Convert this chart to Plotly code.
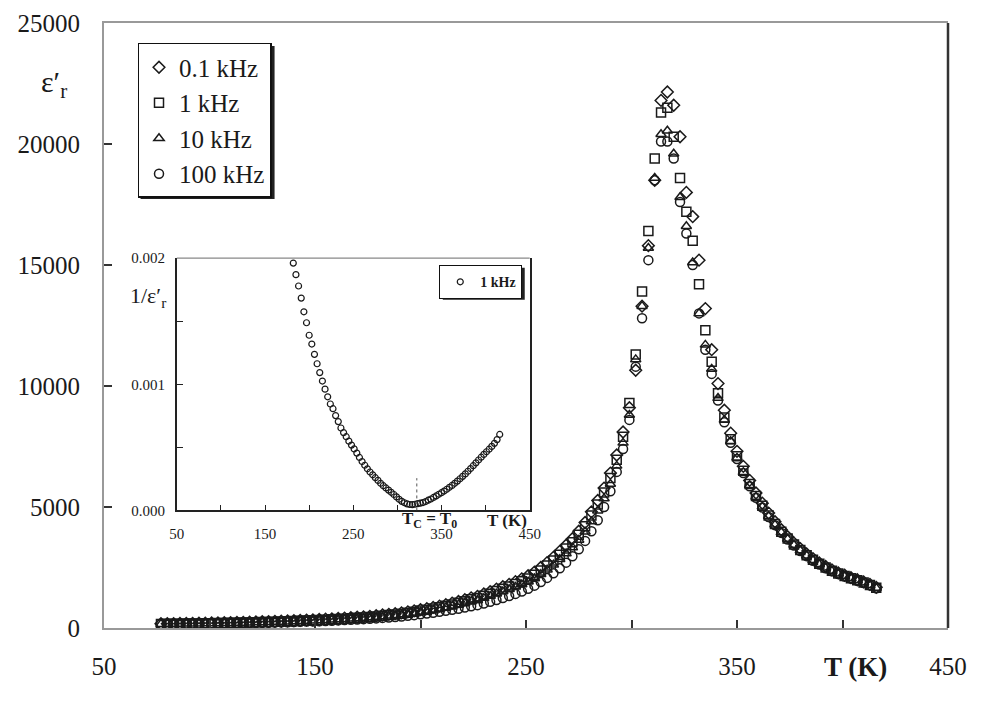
import plotly.graph_objects as go

# ---------------- data ----------------
T = [77, 80, 83, 86, 89, 92, 95, 98, 101, 104,
     107, 110, 113, 116, 119, 122, 125, 128, 131, 134,
     137, 140, 143, 146, 149, 152, 155, 158, 161, 164,
     167, 170, 173, 176, 179, 182, 185, 188, 191, 194,
     197, 200, 203, 206, 209, 212, 215, 218, 221, 224,
     227, 230, 233, 236, 239, 242, 245, 248, 251, 254,
     257, 260, 263, 266, 269, 272, 275, 278, 281, 284,
     287, 290, 293, 296, 299, 302, 305, 308, 311, 314,
     317, 320, 323, 326, 329, 332, 335, 338, 341, 344,
     347, 350, 353, 356, 359, 362, 365, 368, 371, 374,
     377, 380, 383, 386, 389, 392, 395, 398, 401, 404,
     407, 410, 413, 416]

eps_01k = [178, 180, 183, 186, 189, 193, 197, 201, 206, 211,
           216, 222, 228, 235, 242, 249, 257, 265, 274, 283,
           293, 304, 315, 326, 338, 351, 364, 378, 393, 409,
           426, 444, 463, 484, 507, 538, 565, 594, 627, 670,
           710, 760, 800, 852, 906, 965, 1028, 1095, 1168, 1248,
           1310, 1405, 1500, 1610, 1705, 1800, 1915, 2030, 2160, 2310,
           2500, 2700, 2920, 3170, 3420, 3690, 4000, 4360, 4800, 5270,
           5780, 6400, 7150, 8100, 9100, 10650, 13300, 15800, 18500, 21800,
           22150, 21600, 20300, 18000, 17000, 15200, 13200, 11500, 10100, 9000,
           8050, 7300, 6680, 6100, 5580, 5160, 4750, 4390, 4060, 3770,
           3510, 3280, 3060, 2870, 2690, 2540, 2400, 2280, 2180, 2085,
           1995, 1905, 1800, 1680]

eps_1k = [170, 172, 175, 178, 181, 185, 189, 193, 197, 202,
          207, 212, 218, 224, 230, 237, 244, 252, 260, 269,
          278, 288, 298, 309, 320, 332, 345, 358, 372, 387,
          403, 420, 438, 458, 480, 510, 535, 562, 594, 635,
          672, 720, 758, 808, 860, 915, 975, 1040, 1110, 1185,
          1240, 1330, 1420, 1530, 1620, 1710, 1820, 1930, 2050, 2200,
          2380, 2580, 2790, 3030, 3280, 3540, 3850, 4200, 4650, 5100,
          5600, 6200, 6950, 7900, 9300, 11300, 13900, 16400, 19400, 21300,
          21500, 20300, 18600, 17200, 16000, 14200, 12300, 11000, 9700, 8700,
          7800, 7100, 6500, 5950, 5450, 5050, 4650, 4300, 3980, 3700,
          3450, 3220, 3010, 2820, 2650, 2500, 2370, 2250, 2150, 2060,
          1970, 1880, 1780, 1660]

eps_10k = [160, 162, 165, 168, 171, 174, 178, 182, 186, 190,
           195, 200, 205, 211, 217, 223, 230, 237, 245, 253,
           262, 271, 281, 291, 302, 313, 325, 338, 351, 365,
           380, 396, 413, 431, 451, 478, 503, 528, 556, 592,
           628, 672, 708, 752, 800, 850, 905, 965, 1030, 1100,
           1150, 1235, 1320, 1420, 1510, 1600, 1700, 1800, 1910, 2050,
           2220, 2410, 2610, 2840, 3080, 3330, 3640, 3980, 4400, 4850,
           5350, 5950, 6700, 7650, 8800, 11100, 13300, 15700, 18600, 20400,
           20550, 19600, 17800, 16600, 15100, 13000, 11700, 10700, 9500, 8600,
           7720, 7030, 6440, 5900, 5410, 5010, 4620, 4270, 3950, 3680,
           3430, 3200, 2990, 2800, 2635, 2485, 2355, 2240, 2140, 2050,
           1960, 1870, 1770, 1650]

eps_100k = [150, 152, 154, 157, 160, 163, 166, 170, 173, 177,
            181, 185, 190, 195, 200, 206, 212, 218, 225, 232,
            239, 247, 255, 264, 273, 282, 292, 303, 314, 326,
            339, 352, 366, 381, 397, 418, 436, 455, 476, 505,
            532, 566, 595, 630, 668, 708, 750, 796, 846, 900,
            945, 1010, 1080, 1160, 1240, 1320, 1410, 1510, 1620, 1750,
            1900, 2070, 2260, 2470, 2700, 2960, 3250, 3600, 4000, 4450,
            5000, 5650, 6450, 7400, 8600, 10800, 12800, 15200, 18500, 20100,
            20100, 19400, 17600, 16300, 15000, 13000, 11500, 10500, 9400, 8500,
            7650, 6980, 6400, 5860, 5380, 4980, 4590, 4250, 3930, 3660,
            3410, 3180, 2970, 2780, 2620, 2470, 2340, 2230, 2130, 2040,
            1950, 1860, 1760, 1640]

series_names = ["0.1 kHz", "1 kHz", "10 kHz", "100 kHz"]
series_values = [eps_01k, eps_1k, eps_10k, eps_100k]
series_symbols = ["diamond-open", "square-open", "triangle-up-open", "circle-open"]

main_tickvals = [50, 100, 150, 200, 250, 300, 350, 400, 450]
main_ticktext = ["50", "", "150", "", "250", "", "350", "", "450"]
main_yticks = [0, 5000, 10000, 15000, 20000, 25000]

inset_min_T = 180          # inset shows 1/eps' of the 1 kHz series above this T
inset_yticks = [0, 0.0005, 0.001, 0.0015, 0.002]
inset_yticktext = ["0.000", "", "0.001", "", "0.002"]
TC = 322                   # dotted marker of Tc = T0 in the inset
TC_top = 0.000256

inset_T = [t for t in T if t >= inset_min_T]
inset_inv = [1.0 / e for t, e in zip(T, eps_1k) if t >= inset_min_T]

SERIF = "Liberation Serif, Times New Roman, Times, DejaVu Serif, serif"
INK = "#1a1a1a"

fig = go.Figure()

for i, (name, vals, sym) in enumerate(zip(series_names, series_values, series_symbols)):
    fig.add_trace(go.Scatter(
        x=T, y=vals, mode="markers", name=name, legendgroup=f"g{i}",
        marker=dict(symbol=sym, size=9, color=INK, line=dict(width=1.5, color=INK)),
        xaxis="x", yaxis="y", legend="legend",
    ))

fig.add_trace(go.Scatter(
    x=inset_T, y=inset_inv, mode="markers", name="<b>1 kHz</b>",
    marker=dict(symbol="circle-open", size=6, color=INK, line=dict(width=1.2, color=INK)),
    xaxis="x2", yaxis="y2", legend="legend2",
))

inset_dom_x = [0.0863, 0.5044]
inset_dom_y = [0.1943, 0.6113]

fig.update_layout(
    template="none",
    width=1002, height=712,
    margin=dict(l=96, r=62, t=15, b=92, autoexpand=False),
    paper_bgcolor="white", plot_bgcolor="white",
    font=dict(family=SERIF, color=INK),
    xaxis=dict(
        range=[50, 450], domain=[0, 1], tickmode="array", automargin=False,
        tickvals=main_tickvals, ticktext=main_ticktext,
        ticks="inside", ticklen=8, tickwidth=1.5, tickcolor="#333",
        showline=True, linecolor="#999", linewidth=2, mirror=True,
        showgrid=False, zeroline=False,
        tickfont=dict(family=SERIF, size=25, color=INK),
        ticklabelstandoff=15,
    ),
    yaxis=dict(
        range=[0, 25000], domain=[0, 1], tickmode="array", automargin=False,
        tickvals=main_yticks, ticktext=[str(v) for v in main_yticks],
        ticks="inside", ticklen=8, tickwidth=1.5, tickcolor="#333",
        showline=True, linecolor="#999", linewidth=2, mirror=False,
        showgrid=False, zeroline=False,
        tickfont=dict(family=SERIF, size=25, color=INK),
        ticklabelstandoff=17,
    ),
    xaxis2=dict(
        range=[50, 450], domain=inset_dom_x, anchor="y2", tickmode="array", automargin=False,
        tickvals=main_tickvals, ticktext=main_ticktext,
        ticks="inside", ticklen=6, tickwidth=1.2, tickcolor="#222",
        showline=True, linecolor="#222", linewidth=1.5, mirror=False,
        showgrid=False, zeroline=False,
        tickfont=dict(family=SERIF, size=15, color=INK),
        ticklabelstandoff=9,
    ),
    yaxis2=dict(
        range=[0, 0.002], domain=inset_dom_y, anchor="x2", tickmode="array", automargin=False,
        tickvals=inset_yticks, ticktext=inset_yticktext,
        ticks="inside", ticklen=6, tickwidth=1.2, tickcolor="#222",
        showline=True, linecolor="#222", linewidth=1.5, mirror=True,
        showgrid=False, zeroline=False,
        tickfont=dict(family=SERIF, size=15, color=INK),
        ticklabelstandoff=7,
    ),
    legend=dict(
        x=0.0397, y=0.967, xanchor="left", yanchor="top",
        bgcolor="white", bordercolor="#111", borderwidth=1.5,
        font=dict(family=SERIF, size=25, color=INK),
        tracegroupgap=0, itemwidth=30,
    ),
    legend2=dict(
        x=0.397, y=0.600, xanchor="left", yanchor="top",
        bgcolor="white", bordercolor="#111", borderwidth=1.2,
        font=dict(family=SERIF, size=14, color=INK),
        itemwidth=30,
    ),
    showlegend=True,
)

shapes = [
    # darker right frame line of the main plot
    dict(type="line", xref="paper", yref="paper", x0=1, x1=1, y0=0, y1=1,
         line=dict(color="#333", width=2.5)),
    # thin grey top line of the inset
    dict(type="line", xref="x2 domain", yref="y2 domain", x0=0, x1=1, y0=1, y1=1,
         line=dict(color="#888", width=1.2)),
    # dotted Tc marker
    dict(type="line", xref="x2", yref="y2", x0=TC, x1=TC, y0=0, y1=TC_top,
         line=dict(color="#555", width=1, dash="dot")),
    # legend drop shadows
    dict(type="rect", xref="paper", yref="paper", x0=0.0433, x1=0.2021, y0=0.7092, y1=0.962,
         fillcolor="#222", line=dict(width=0), layer="above"),
    dict(type="rect", xref="paper", yref="paper", x0=0.4014, x1=0.4985, y0=0.5424, y1=0.5953,
         fillcolor="#222", line=dict(width=0), layer="above"),
]
fig.update_layout(shapes=shapes)

annotations = [
    dict(text="ε′<sub>r</sub>", xref="paper", yref="paper", x=-0.0587, y=0.899,
         xanchor="center", yanchor="middle", showarrow=False,
         font=dict(family=SERIF, size=30, color=INK)),
    dict(text="<b>T (K)</b>", xref="x", yref="paper", x=406, y=0, yshift=-39,
         xanchor="center", yanchor="middle", showarrow=False,
         font=dict(family=SERIF, size=27, color=INK)),
    dict(text="1/ε′<sub>r</sub>", xref="paper", yref="paper", x=0.028, y=0.547,
         xanchor="left", yanchor="middle", showarrow=False,
         font=dict(family=SERIF, size=22, color=INK)),
    dict(text="<b>T<sub>C</sub> = T<sub>0</sub></b>", xref="x2", yref="y2", x=336, y=0,
         yshift=-10, xanchor="center", yanchor="middle", showarrow=False,
         font=dict(family=SERIF, size=17, color=INK)),
    dict(text="<b>T (K)</b>", xref="x2", yref="y2", x=424, y=0,
         yshift=-10, xanchor="center", yanchor="middle", showarrow=False,
         font=dict(family=SERIF, size=17, color=INK)),
]
fig.update_layout(annotations=annotations)

fig.write_html("out.html")
